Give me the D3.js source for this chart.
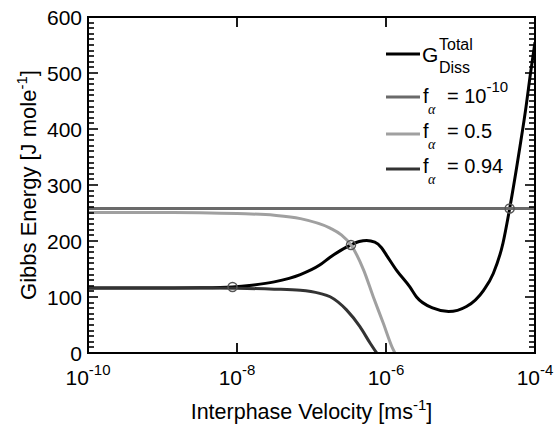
<!DOCTYPE html>
<html><head><meta charset="utf-8">
<script src="https://cdn.jsdelivr.net/npm/d3@7"></script>
<style>body{margin:0;background:#fff}svg{display:block}</style>
</head><body>
<svg id="c" width="559" height="425"></svg>
<script>
// ---- data (x stored as log10 of velocity) ----
const xTickExps = [-10, -8, -6, -4];
const yTicks = [0, 100, 200, 300, 400, 500, 600];

const totalLogV = [-10, -9, -8.5, -8.06, -7.8, -7.5, -7.15, -6.89, -6.75, -6.47, -6.36, -6.26, -6.15, -6.06, -5.99, -5.86, -5.68, -5.59, -5.365, -5.16, -4.92, -4.69, -4.56, -4.43, -4.34, -4.2, -4.12, -4.06, -4.0];
const totalG    = [116, 116, 116.5, 118, 121, 127, 140, 157, 171, 193, 199, 201, 198, 188, 174, 148, 118, 100, 80, 74, 83, 112, 142, 196, 258, 370, 440, 500, 555];

const tenLogV = [-10, -4];
const tenG    = [258, 258];

const halfLogV = [-10, -9, -8.5, -8, -7.5, -7.15, -6.75, -6.6, -6.47, -6.3, -6.17, -6.036, -5.92, -5.88];
const halfG    = [251, 251, 250.5, 249, 246, 240, 223, 211, 193, 148, 100, 53, 11, 0];

const nineLogV = [-10, -9, -8.5, -8, -7.5, -7.15, -6.89, -6.75, -6.53, -6.35, -6.21, -6.125];
const nineG    = [116, 116, 116, 115.5, 114, 112, 106.5, 100.5, 77, 47, 17, 0];

const crossLogV = [-8.06, -6.47, -4.34];
const crossG    = [118, 193, 258];

const seriesNames = ["total", "ten", "half", "nine"];
const seriesColors = ["#000000", "#6a6a6a", "#a0a0a0", "#333333"];

// ---- chart ----
const L = 88, R = 535, T = 17, B = 353;
const svg = d3.select("#c");
const FONT = "'Liberation Sans', Arial, Helvetica, sans-serif";
svg.style("font-family", FONT);

const x = d3.scaleLog().domain([1e-10, 1e-4]).range([L, R]);
const y = d3.scaleLinear().domain([0, 600]).range([B, T]);

svg.append("defs").append("clipPath").attr("id", "clip")
  .append("rect").attr("x", L).attr("y", T).attr("width", R - L).attr("height", B - T);

const line = d3.line().x(d => x(Math.pow(10, d[0]))).y(d => y(d[1])).curve(d3.curveMonotoneX);
const zip = (a, b) => a.map((v, i) => [v, b[i]]);

const g = svg.append("g").attr("clip-path", "url(#clip)");
const data = [zip(totalLogV, totalG), zip(tenLogV, tenG), zip(halfLogV, halfG), zip(nineLogV, nineG)];
data.forEach((d, i) => {
  g.append("path").datum(d).attr("d", line).attr("fill", "none")
    .attr("stroke", seriesColors[i]).attr("stroke-width", 3).attr("stroke-linejoin", "round");
});

// intersection circles
g.selectAll("circle.x").data(zip(crossLogV, crossG)).enter().append("circle")
  .attr("cx", d => x(Math.pow(10, d[0]))).attr("cy", d => y(d[1])).attr("r", 4.5)
  .attr("fill", "none").attr("stroke", "#555").attr("stroke-width", 1.5);

// ---- axes / ticks (inward) ----
const minorY = d3.range(0, 601, 10);
const tk = svg.append("g");
minorY.forEach(v => {
  const len = (v % 100 === 0) ? 10 : 6;
  const py = Math.round(y(v));
  tk.append("line").attr("x1", L).attr("x2", L + len).attr("y1", py).attr("y2", py)
    .attr("stroke", "#000").attr("stroke-width", 1.6);
  tk.append("line").attr("x1", R).attr("x2", R - len).attr("y1", py).attr("y2", py)
    .attr("stroke", "#000").attr("stroke-width", 1.6);
});
xTickExps.forEach(e => {
  const px = Math.round(x(Math.pow(10, e)));
  tk.append("line").attr("x1", px).attr("x2", px).attr("y1", B).attr("y2", B - 10)
    .attr("stroke", "#000").attr("stroke-width", 1.8);
  tk.append("line").attr("x1", px).attr("x2", px).attr("y1", T).attr("y2", T + 10)
    .attr("stroke", "#000").attr("stroke-width", 1.8);
});

// y tick labels via d3 axis (no lines)
const la = svg.append("g").attr("transform", `translate(${L},0)`)
  .call(d3.axisLeft(y).tickValues(yTicks).tickSize(0).tickPadding(6).tickFormat(d3.format("d")));
la.select(".domain").remove();
la.selectAll("line").remove();
la.selectAll("text").attr("font-size", 21).attr("font-family", FONT).attr("fill", "#000").attr("dy", "0.36em");

// x tick labels 10^n
xTickExps.forEach(e => {
  const t = svg.append("text").attr("x", x(Math.pow(10, e))).attr("y", 385)
    .attr("text-anchor", "middle").attr("font-size", 21).attr("fill", "#000");
  t.append("tspan").text("10");
  t.append("tspan").attr("dy", -10).attr("font-size", 15).text(String(e));
});

// box
svg.append("rect").attr("x", L).attr("y", T).attr("width", R - L).attr("height", B - T)
  .attr("fill", "none").attr("stroke", "#000").attr("stroke-width", 2);

// axis titles
const xt1 = svg.append("text").attr("x", (L + R) / 2).attr("y", 419)
  .attr("text-anchor", "middle").attr("font-size", 21.5).attr("fill", "#000");
xt1.append("tspan").text("Interphase Velocity [ms");
xt1.append("tspan").attr("dy", -9).attr("font-size", 15).text("-1");
xt1.append("tspan").attr("dy", 9).text("]");

const yt = svg.append("text").attr("transform", `translate(36,${(T + B) / 2}) rotate(-90)`)
  .attr("text-anchor", "middle").attr("font-size", 22).attr("fill", "#000");
yt.append("tspan").text("Gibbs Energy [J mole");
yt.append("tspan").attr("dy", -9).attr("font-size", 15).text("-1");
yt.append("tspan").attr("dy", 9).text("]");

// ---- legend ----
const legLineY = [54, 97, 134, 169];
const legTextY = [61.5, 103, 138, 173];
const fLabels = ["", "10", "0.5", "0.94"];
seriesNames.forEach((s, i) => {
  svg.append("line").attr("x1", 386).attr("x2", 420).attr("y1", legLineY[i]).attr("y2", legLineY[i])
    .attr("stroke", seriesColors[i]).attr("stroke-width", 3);
});
svg.append("text").attr("x", 422).attr("y", legTextY[0]).attr("font-size", 21).attr("fill", "#000").text("G");
svg.append("text").attr("x", 439).attr("y", 50).attr("font-size", 16).attr("fill", "#000").text("Total");
svg.append("text").attr("x", 439).attr("y", 73).attr("font-size", 16).attr("fill", "#000").text("Diss");
for (let i = 1; i < 4; i++) {
  const ty = legTextY[i];
  svg.append("text").attr("x", 423).attr("y", ty).attr("font-size", 20).attr("fill", "#000").text("f");
  svg.append("text").attr("x", 428).attr("y", ty + 10.5).attr("font-size", 14).attr("font-style", "italic")
    .attr("font-family", "'Liberation Serif', 'Times New Roman', serif").attr("fill", "#000").text("α");
  const t = svg.append("text").attr("x", 447).attr("y", ty).attr("font-size", 20).attr("fill", "#000");
  t.append("tspan").text("= " + fLabels[i]);
  if (i === 1) t.append("tspan").attr("dy", -11).attr("font-size", 15).text("-10");
}
</script>
</body></html>
